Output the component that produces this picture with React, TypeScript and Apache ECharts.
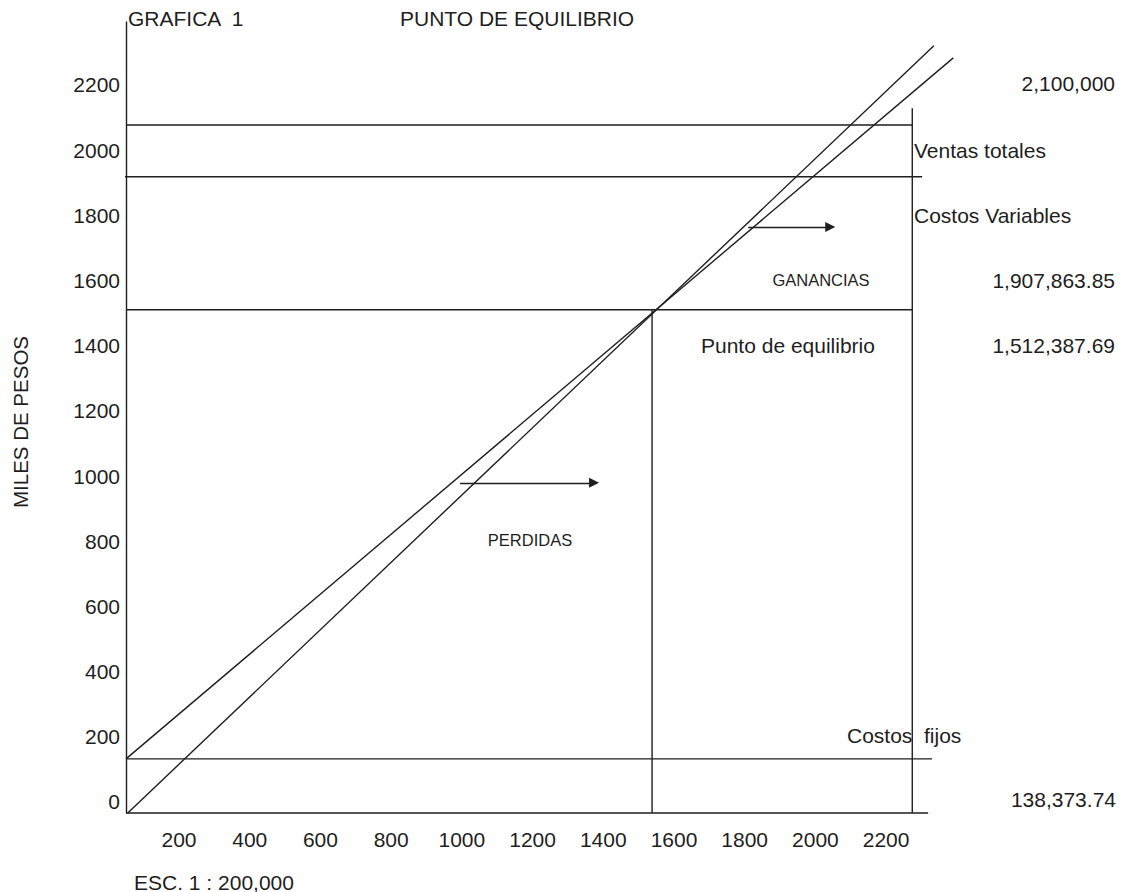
import React, { useEffect, useRef } from "react";
import * as echarts from "echarts";

// ---- data (miles de pesos) ----
const yTickValues = [0, 200, 400, 600, 800, 1000, 1200, 1400, 1600, 1800, 2000, 2200];
const xTickValues = [200, 400, 600, 800, 1000, 1200, 1400, 1600, 1800, 2000, 2200];

const ejeX = [[50, -34], [2319, -34]];
const ventasLinea = [[55, -34], [2335, 2320]];
const costosLinea = [[50, 132], [2390, 2283]];
const nivelVentas = [[50, 2077], [2274, 2077]];
const nivelCostosVar = [[45, 1918], [2302, 1918]];
const nivelEquilibrio = [[50, 1510], [2274, 1510]];
const nivelCostosFijos = [[50, 132], [2330, 132]];
const verticalEquilibrio = [[1538, 1510], [1538, -34]];
const verticalLimite = [[2274, 2128], [2274, -34]];
const flechaPerdidas = [[995, 979], [1374, 979]];
const flechaGanancias = [[1810, 1764], [2042, 1764]];

const valoresTexto = ["2,100,000", "1,907,863.85", "1,512,387.69", "138,373.74"];

const FONT = "'Liberation Sans', Arial, sans-serif";
const INK = "#1e1e1e";

function seg(name: string, data: number[][]) {
  return {
    name,
    type: "line",
    data,
    showSymbol: false,
    clip: false,
    silent: true,
    lineStyle: { color: INK, width: 1.4 },
  };
}

export default function App() {
  const ref = useRef<HTMLDivElement>(null);
  useEffect(() => {
    if (!ref.current) return;
    const chart = echarts.init(ref.current, null, { renderer: "svg" });
    const txt = (text: string, x: number, y: number, align: string, size = 21, extra: any = {}) => ({
      type: "text",
      x,
      y,
      style: { text, fill: INK, font: `${size}px ${FONT}`, align, verticalAlign: "middle" },
      ...extra,
    });
    chart.setOption({
      animation: false,
      backgroundColor: "#ffffff",
      grid: { left: 126, right: 162, top: 22, bottom: 79 },
      xAxis: {
        type: "value",
        min: 50,
        max: 2409,
        axisLine: { show: false },
        axisTick: { show: false },
        splitLine: { show: false },
        axisLabel: {
          customValues: xTickValues,
          margin: 16,
          color: INK,
          fontSize: 21,
          fontFamily: FONT,
          formatter: (v: number) => String(v),
        },
      },
      yAxis: {
        type: "value",
        min: -34,
        max: 2393,
        axisLine: { show: true, onZero: false, lineStyle: { color: INK, width: 1.4 } },
        axisTick: { show: false },
        splitLine: { show: false },
        axisLabel: {
          customValues: yTickValues,
          margin: 6,
          color: INK,
          fontSize: 21,
          fontFamily: FONT,
          formatter: (v: number) => String(v),
        },
      },
      series: [
        seg("Eje X", ejeX),
        seg("Ventas totales", ventasLinea),
        seg("Costos totales", costosLinea),
        seg("Nivel ventas", nivelVentas),
        seg("Nivel costos variables", nivelCostosVar),
        seg("Nivel equilibrio", nivelEquilibrio),
        seg("Costos fijos", nivelCostosFijos),
        seg("Vertical equilibrio", verticalEquilibrio),
        seg("Vertical limite", verticalLimite),
        {
          type: "lines",
          coordinateSystem: "cartesian2d",
          silent: true,
          symbol: ["none", "triangle"],
          symbolSize: 10,
          lineStyle: { color: INK, width: 1.4, opacity: 1 },
          itemStyle: { color: INK },
          data: [{ coords: flechaPerdidas }, { coords: flechaGanancias }],
        },
      ],
      graphic: [
        txt("GRAFICA  1", 128, 18, "left"),
        txt("PUNTO DE EQUILIBRIO", 400, 18, "left"),
        txt(valoresTexto[0], 1115, 83, "right"),
        txt("Ventas totales", 914, 150, "left"),
        txt("Costos Variables", 914, 215, "left"),
        txt("GANANCIAS", 821, 280, "center", 16.5),
        txt(valoresTexto[1], 1115, 280, "right"),
        txt("Punto de equilibrio", 701, 345, "left"),
        txt(valoresTexto[2], 1115, 345, "right"),
        txt("PERDIDAS", 530, 540, "center", 16.5),
        txt("Costos  fijos", 847, 735, "left"),
        txt(valoresTexto[3], 1116, 799, "right"),
        txt("ESC. 1 : 200,000", 134, 882, "left"),
        txt("MILES DE PESOS", 20, 422, "center", 20.5, { rotation: Math.PI / 2 }),
      ],
    });
    return () => chart.dispose();
  }, []);
  return (
    <div
      ref={ref}
      style={{ position: "absolute", left: 0, top: 0, width: 1122, height: 892, background: "#fff" }}
    />
  );
}
